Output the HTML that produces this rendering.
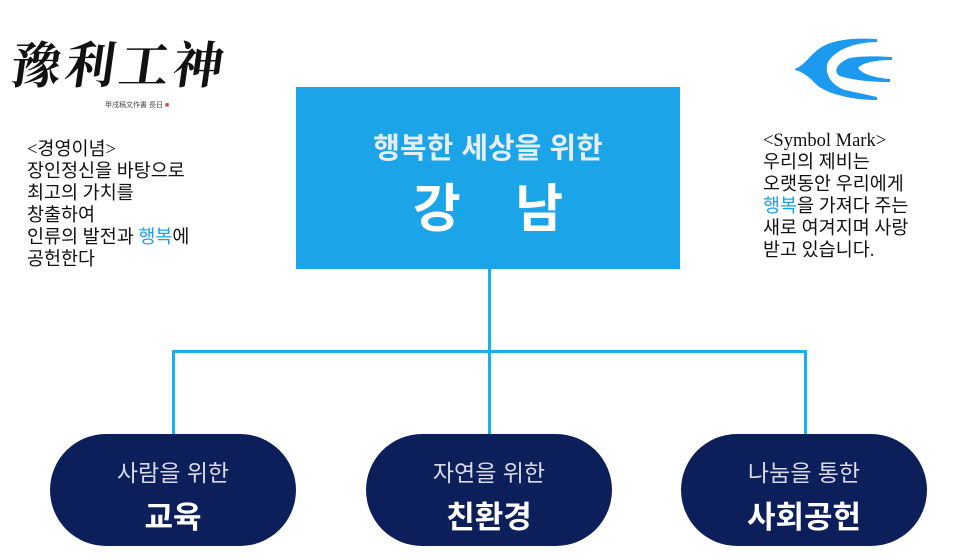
<!DOCTYPE html>
<html><head><meta charset="utf-8"><style>
body{margin:0;width:960px;height:560px;background:#fff;position:relative;overflow:hidden;font-family:"Liberation Sans","Noto Sans CJK KR",sans-serif}
.t{position:absolute;font-family:"Liberation Serif","Noto Sans CJK KR",serif;font-size:18.5px;line-height:22px;color:#111}
.b{color:#1aa3e8}
.box{position:absolute;left:296px;top:87px;width:384px;height:182px;background:#1ba4e8;text-align:center;color:#fff}
.ov{position:absolute;top:434px;width:246px;height:112px;border-radius:56px;background:#0d1f5a;text-align:center;color:#fff}
.ov .s{font-size:23px;color:#d8dbe6;margin-top:20px}
.ov .l{font-size:31px;font-weight:bold;margin-top:4px}
.ln{position:absolute;background:#1ab0f0}
</style></head><body>
<div style="position:absolute;left:12px;top:26px;font-family:'Noto Serif CJK SC',serif;font-size:50px;font-weight:bold;letter-spacing:4px;color:#111;transform:skewX(-8deg)">豫利工神</div>
<div style="position:absolute;left:105px;top:100px;font-size:7px;color:#444">甲戌稿文作書  長日 <span style="color:#c44">■</span></div>
<svg style="position:absolute;left:780px;top:30px" width="120" height="80" viewBox="0 0 120 80">
<path d="M15 39 C25 35 30 25 40 18 C55 8 80 8 97 9 L97 12 C75 12 55 20 48 32 C44 42 50 55 65 60 L97 67 L97 70 C75 70 50 65 38 56 C30 48 24 42 15 40 Z" fill="#1b9af0"/>
<path d="M70 28 C80 26 95 26 112 27 L112 30 C95 30 82 33 78 38 C82 44 95 48 110 49 L110 52 C90 52 72 50 60 46 C52 42 58 32 70 28 Z" fill="#1b9af0"/>
</svg>
<div class="t" style="left:27px;top:139px">&lt;경영이념&gt;<br>장인정신을 바탕으로<br>최고의 가치를<br>창출하여<br>인류의 발전과 <span class="b">행복</span>에<br>공헌한다</div>
<div class="t" style="left:763px;top:130px">&lt;Symbol Mark&gt;<br>우리의 제비는<br>오랫동안 우리에게<br><span class="b">행복</span>을 가져다 주는<br>새로 여겨지며 사랑<br>받고 있습니다.</div>
<div class="box"><div style="font-size:29px;font-weight:bold;color:#e6eef4;margin-top:38px">행복한 세상을 위한</div><div style="font-size:52px;font-weight:bold;margin-top:0px;letter-spacing:20px;padding-left:20px">강 남</div></div>
<div class="ln" style="left:488px;top:269px;width:3px;height:166px"></div>
<div class="ln" style="left:172px;top:350px;width:635px;height:3px"></div>
<div class="ln" style="left:172px;top:350px;width:3px;height:85px"></div>
<div class="ln" style="left:804px;top:350px;width:3px;height:85px"></div>
<div class="ov" style="left:50px"><div class="s">사람을 위한</div><div class="l">교육</div></div>
<div class="ov" style="left:366px"><div class="s">자연을 위한</div><div class="l">친환경</div></div>
<div class="ov" style="left:681px"><div class="s">나눔을 통한</div><div class="l">사회공헌</div></div>
</body></html>
